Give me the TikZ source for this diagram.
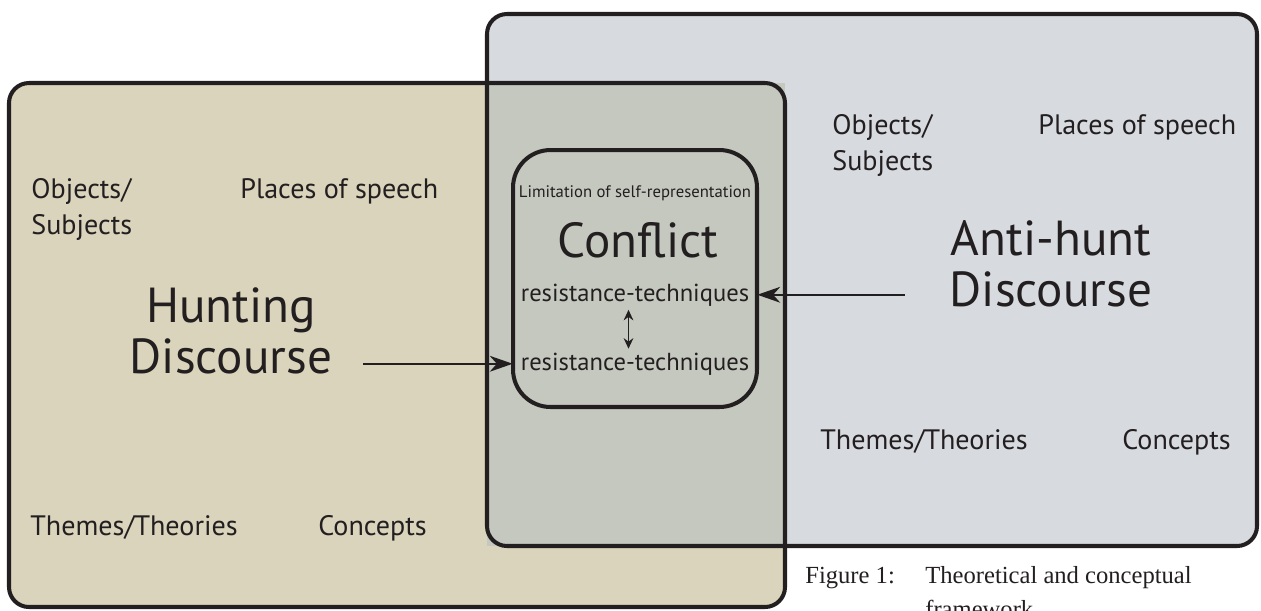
\documentclass[tikz,border=0pt]{standalone}
\usepackage{fontspec}
\setmainfont{PT Sans}
\newfontfamily\capfont{Liberation Serif}
\usetikzlibrary{arrows.meta}
\definecolor{huntfill}{HTML}{D9D4BB}
\definecolor{antifill}{HTML}{D7DBE0}
\definecolor{overfill}{HTML}{C5C8BF}
\definecolor{edgeblk}{HTML}{231F20}

\begin{document}
\begin{tikzpicture}[x=0.02cm,y=-0.02cm,>={Stealth[length=13pt,width=9pt,inset=4pt]},
  box/.style={draw=edgeblk,line width=2.3pt,rounded corners=0.4cm},
  conflict box/.style={draw=edgeblk,fill=overfill,line width=2.3pt,rounded corners=0.75cm,
        minimum width=4.88cm,minimum height=5.14cm,inner sep=0pt},
  big node/.style={font=\fontsize{28}{29}\selectfont,align=center,inner sep=0pt,text=edgeblk},
  label node/.style={font=\fontsize{16}{20.4}\selectfont,align=left,inner sep=0pt,text=edgeblk},
  rt node/.style={font=\fontsize{14}{16}\selectfont,inner sep=0pt,text=edgeblk,minimum width=4.88cm},
  small node/.style={font=\fontsize{9.5}{11}\selectfont,inner sep=0pt,text=edgeblk},
  cap node/.style={font=\capfont\fontsize{14}{19}\selectfont,align=left,inner sep=0pt,text=edgeblk}]
  \useasboundingbox (0,0) rectangle (1261,610);

  % the two discourses and their overlap
  \fill[huntfill,rounded corners=0.4cm] (9,83) rectangle (785,607);
  \fill[antifill,rounded corners=0.4cm] (487,14) rectangle (1257,546);
  \fill[overfill] (487,83) rectangle (785,546);
  \draw[box] (9,83) rectangle (785,607);
  \draw[box] (487,14) rectangle (1257,546);

  % hunting discourse (base = last line)
  \node[label node,anchor=base west] (objL) at (31,234) {Objects/\\Subjects};
  \node[label node,anchor=base west] (placesL) at (240,198) {Places of speech};
  \node[label node,anchor=base west] (themesL) at (30,535) {Themes/Theories};
  \node[label node,anchor=base west] (conceptsL) at (318,535) {Concepts};
  \node[big node,anchor=base] (hunt) at (231,373) {Hunting\\Discourse};

  % anti-hunt discourse
  \node[label node,anchor=base west] (objR) at (832,170) {Objects/\\Subjects};
  \node[label node,anchor=base west] (placesR) at (1038,134) {Places of speech};
  \node[label node,anchor=base west] (themesR) at (820,449) {Themes/Theories};
  \node[label node,anchor=base west] (conceptsR) at (1122,449) {Concepts};
  \node[big node,anchor=base] (anti) at (1051,306) {Anti-hunt\\Discourse};

  % conflict
  \node[conflict box] (conflict) at (635,278.5) {};
  \node[small node,anchor=base] (limit) at (635,197) {Limitation of self-representation};
  \node[big node,anchor=base] (conflictlbl) at (638,257) {Conflict};
  \node[rt node,anchor=base] (uprt) at (635,301) {resistance-techniques};
  \node[rt node,anchor=base] (lowrt) at (635,370) {resistance-techniques};

  \coordinate (huntout) at (363,0);
  \coordinate (antiout) at (905,0);
  \draw[->,draw=edgeblk,line width=1.1pt] (huntout |- lowrt.west) -- (lowrt.west);
  \draw[->,draw=edgeblk,line width=1.1pt] (antiout |- uprt.east) -- (uprt.east);
  \draw[{Stealth[length=6pt,width=5.5pt]}-{Stealth[length=6pt,width=5.5pt]},draw=edgeblk,line width=1pt,
        shorten <=2pt,shorten >=2pt] ([xshift=-0.13cm]uprt.south) -- ([xshift=-0.13cm]lowrt.north);

  % caption
  \node[cap node,anchor=base west] (fig) at (805,583) {Figure 1:};
  \node[cap node,anchor=base west] (figtext) at (925,617) {Theoretical and conceptual\\framework};
\end{tikzpicture}
\end{document}
